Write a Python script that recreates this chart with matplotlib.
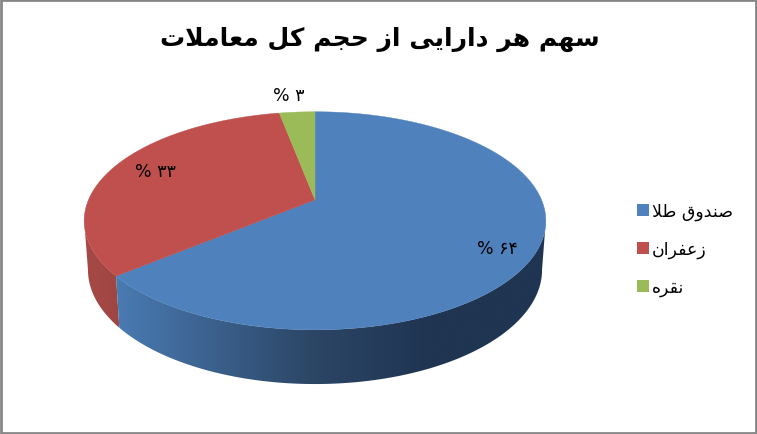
import numpy as np
import matplotlib
matplotlib.use("Agg")
import matplotlib.pyplot as plt
from matplotlib.patches import Polygon, Patch, Rectangle
from matplotlib.colors import LinearSegmentedColormap

# ---- data -------------------------------------------------------------
title_fa = "سهم هر دارایی از حجم کل معاملات"
categories = ["صندوق طلا", "زعفران", "نقره"]
shares = [64, 33, 3]
share_labels = ["۶۴", "۳۳", "۳"]
colors = ["#4F81BD", "#C0504D", "#9BBB59"]

# ---- minimal Persian shaping (matplotlib has no bidi / shaping) --------
FORMS = {  # isolated, final, initial, medial
    "ا": "\uFE8D\uFE8E", "د": "\uFEA9\uFEAA", "ذ": "\uFEAB\uFEAC", "ر": "\uFEAD\uFEAE",
    "ز": "\uFEAF\uFEB0", "و": "\uFEED\uFEEE",
    "ت": "\uFE95\uFE96\uFE97\uFE98", "ج": "\uFE9D\uFE9E\uFE9F\uFEA0",
    "ح": "\uFEA1\uFEA2\uFEA3\uFEA4", "س": "\uFEB1\uFEB2\uFEB3\uFEB4",
    "ص": "\uFEB9\uFEBA\uFEBB\uFEBC", "ط": "\uFEC1\uFEC2\uFEC3\uFEC4",
    "ع": "\uFEC9\uFECA\uFECB\uFECC", "ف": "\uFED1\uFED2\uFED3\uFED4",
    "ق": "\uFED5\uFED6\uFED7\uFED8", "ل": "\uFEDD\uFEDE\uFEDF\uFEE0",
    "م": "\uFEE1\uFEE2\uFEE3\uFEE4", "ن": "\uFEE5\uFEE6\uFEE7\uFEE8",
    "ه": "\uFEE9\uFEEA\uFEEB\uFEEC", "ک": "\uFB8E\uFB8F\uFB90\uFB91",
    "ی": "\uFBFC\uFBFD\uFBFE\uFBFF",
}

def shape(text):
    out = []
    n = len(text)
    i = 0
    while i < n:
        c = text[i]
        if c not in FORMS:
            out.append(c)
            i += 1
            continue
        prev = text[i - 1] if i else ""
        joins_prev = prev in FORMS and len(FORMS[prev]) == 4
        if c == "ل" and i + 1 < n and text[i + 1] == "ا":
            out.append("\uFEFC" if joins_prev else "\uFEFB")
            i += 2
            continue
        nxt = text[i + 1] if i + 1 < n else ""
        joins_next = len(FORMS[c]) == 4 and nxt in FORMS
        f = FORMS[c]
        if joins_prev and joins_next:
            out.append(f[3])
        elif joins_prev:
            out.append(f[1])
        elif joins_next:
            out.append(f[2])
        else:
            out.append(f[0])
        i += 1
    return "".join(reversed(out))

# ---- figure ------------------------------------------------------------
W, H = 757, 435
fig = plt.figure(figsize=(W / 100, H / 100), dpi=100, facecolor="white")
ax = fig.add_axes([0, 0, 1, 1])
plt.rcParams["font.family"] = ["DejaVu Sans"]

# perspective projection of the pie's unit circle
CX = 315
TOP = dict(a=226.5, b=105.0, cy=200.8)
BOT = dict(a=222.8, b=110.0, cy=248.8)
K = 0.1926

def project(theta, face):
    u, v = np.sin(theta), np.cos(theta)
    w = 1 + K * v
    return np.column_stack([CX + face["a"] * u / w, face["cy"] - face["b"] * v / w])

fracs = np.array(shares, float) / np.sum(shares)
edges = np.concatenate([[0], np.cumsum(fracs)]) * 2 * np.pi

# side wall: a horizontal gradient clipped to the swept outline of the wedge
blue_side = LinearSegmentedColormap.from_list(
    "b", [(0, "#4A7BB3"), (0.45, "#2C4666"), (0.72, "#1F3552"), (1, "#1F3552")])
red_side = LinearSegmentedColormap.from_list("r", [(0, "#A84A47"), (1, "#9C4542")])

def side(start, end, cmap, xmin, xmax):
    th = np.linspace(start, end, 300)
    outline = np.vstack([project(th, TOP), project(th[::-1], BOT)])
    grad = np.linspace(0, 1, 512)[None, :]
    im = ax.imshow(grad, cmap=cmap, extent=(xmin, xmax, 400, 100), aspect="auto",
                   interpolation="bilinear", zorder=2)
    clip = Polygon(outline, closed=True, transform=ax.transData, fc="none", ec="none")
    ax.add_patch(clip)
    im.set_clip_path(clip)

side(edges[1], np.radians(259), red_side, 80, 125)
side(np.radians(101), edges[1], blue_side, 115, 550)

ax.set_xlim(0, W)
ax.set_ylim(H, 0)
ax.axis("off")

# top face
for i, col in enumerate(colors):
    th = np.linspace(edges[i], edges[i + 1], 240)
    pts = np.vstack([[CX, TOP["cy"]], project(th, TOP)])
    ax.add_patch(Polygon(pts, closed=True, fc=col, ec=col, lw=0.3, zorder=3))

# data labels
label_pos = [(497, 249), (155, 172), (289, 96)]
for lab, (x, y) in zip(share_labels, label_pos):
    ax.text(x, y, "% " + lab, ha="center", va="center", fontsize=12.5, color="black", zorder=5)

# title
ax.text(380, 39, shape(title_fa), ha="center", va="center", fontsize=18,
        fontweight="bold", color="black", zorder=5)

# legend
handles = [Patch(fc=c, ec="none") for c in colors]
leg = ax.legend(handles, [shape(c) for c in categories], loc="upper left",
                bbox_to_anchor=(637 / W, 1 - 203 / H), bbox_transform=fig.transFigure,
                frameon=False, fontsize=12.5, handlelength=0.69, handleheight=0.69,
                handletextpad=0.18, labelspacing=1.13, borderpad=0, borderaxespad=0)

# chart frame
ax.add_patch(Rectangle((1, 1), 754.8, 432.8, fill=False, ec="#868686", lw=2.0, zorder=6))

fig.savefig("out.png", dpi=100)
